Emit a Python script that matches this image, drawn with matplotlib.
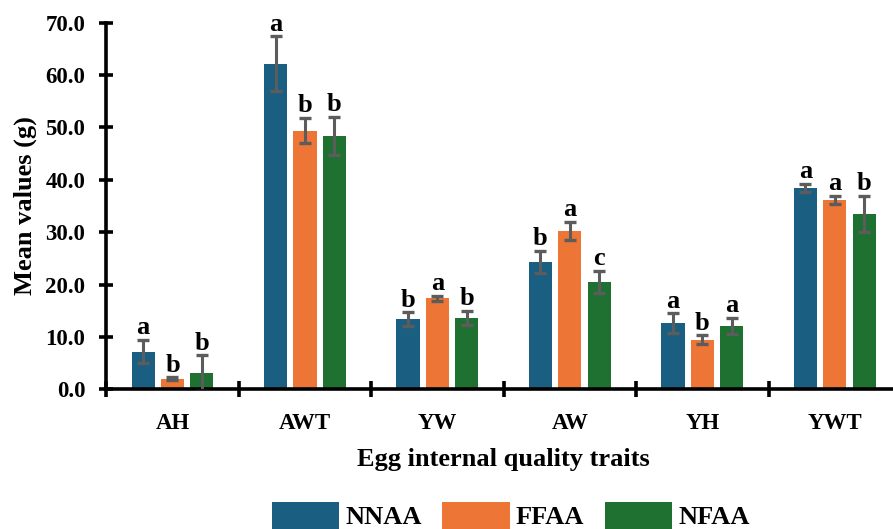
import numpy as np
import matplotlib.pyplot as plt

plt.rcParams['font.family'] = ['Liberation Serif', 'DejaVu Serif']
plt.rcParams['font.weight'] = 'bold'

# Datos
traits = ['AH', 'AWT', 'YW', 'AW', 'YH', 'YWT']
groups = ['NNAA', 'FFAA', 'NFAA']

nnaa = [7.2, 62.2, 13.4, 24.4, 12.6, 38.4]
ffaa = [2.0, 49.4, 17.4, 30.3, 9.5, 36.1]
nfaa = [3.1, 48.4, 13.6, 20.5, 12.1, 33.5]

nnaa_err = [2.2, 5.2, 1.3, 2.1, 1.9, 0.8]
ffaa_err = [0.3, 2.4, 0.5, 1.7, 0.8, 0.8]
nfaa_err = [3.4, 3.6, 1.4, 2.1, 1.6, 3.5]

nnaa_let = ['a', 'a', 'b', 'b', 'a', 'a']
ffaa_let = ['b', 'b', 'a', 'a', 'b', 'a']
nfaa_let = ['b', 'b', 'b', 'c', 'a', 'b']

colores = ['#1a5f82', '#ed7535', '#1e7131']

fig = plt.figure(figsize=(8.93, 5.29), dpi=100)
ax = fig.add_axes([0.119, 0.264, 0.89, 0.693])

x = np.arange(len(traits))
ancho = 0.175
paso = 0.222

series = [(nnaa, nnaa_err, nnaa_let), (ffaa, ffaa_err, ffaa_let), (nfaa, nfaa_err, nfaa_let)]
for i, (vals, errs, lets) in enumerate(series):
    pos = x + (i - 1) * paso
    ax.bar(pos, vals, ancho, color=colores[i], label=groups[i], zorder=2)
    ax.errorbar(pos, vals, yerr=errs, fmt='none', ecolor='#5c5c5c',
                elinewidth=2.2, capsize=4.5, capthick=2.4, zorder=3)
    for p, v, e, l in zip(pos, vals, errs, lets):
        ax.text(p, v + e + 1.1, l, ha='center', va='baseline',
                fontsize=19, fontweight='bold')

ax.set_xlim(-0.5, 5.5)
ax.set_ylim(0, 70)
ax.set_yticks(np.arange(0, 71, 10))
ax.set_yticklabels(['%.1f' % v for v in np.arange(0, 71, 10)])
ax.set_xticks(x)
ax.set_xticklabels(traits)
ax.set_xticks(np.arange(-0.5, 5.6, 1), minor=True)

for s in ['top', 'right']:
    ax.spines[s].set_visible(False)
for s in ['left', 'bottom']:
    ax.spines[s].set_linewidth(2.6)

ax.tick_params(axis='y', direction='inout', length=10, width=2.6, labelsize=16.5, pad=10)
ax.tick_params(axis='x', which='major', length=0, labelsize=16.5, pad=17)
ax.tick_params(axis='x', which='minor', direction='inout', length=12, width=2.6)

ax.set_ylabel('Mean values (g)', fontsize=19, fontweight='bold')
ax.yaxis.set_label_coords(-0.087, 0.5)
ax.set_xlabel('Egg internal quality traits', fontsize=19, fontweight='bold', labelpad=10)

ax.legend(loc='center', bbox_to_anchor=(0.572, 0.025), bbox_transform=fig.transFigure,
          ncol=3, frameon=False, fontsize=19, handlelength=2.57, handleheight=1.2,
          columnspacing=0.76, handletextpad=0.23, borderpad=0)

plt.savefig('out.png', dpi=100)
